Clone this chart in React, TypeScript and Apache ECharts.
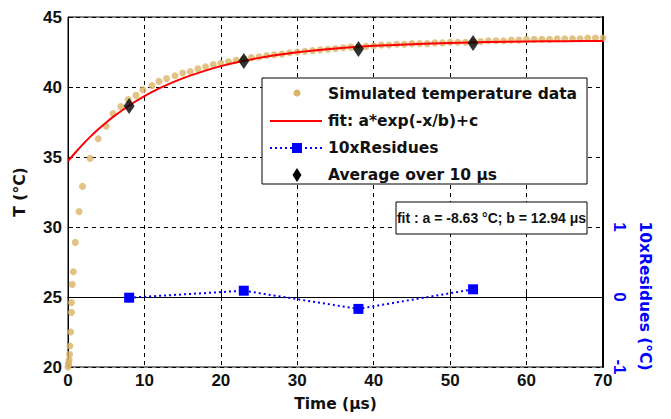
import React, { useEffect, useRef } from "react";
import * as echarts from "echarts";

// Simulated temperature data (time in µs, temperature in °C)
const simTime = [
  0, 0.05, 0.1, 0.15, 0.2, 0.25, 0.35, 0.45, 0.45, 0.55, 0.7, 0.95, 1.45, 1.9, 2.9, 3.95, 5, 5.9, 6.9, 7.9, 8.9, 9.8,
  11, 11.9, 12.9, 14, 15, 16, 17, 18, 19, 20, 21, 22, 23, 24, 25, 26, 27, 28, 29, 30, 31, 32, 33, 34, 35, 36, 37,
  38, 39, 40, 41, 42, 43, 44, 45, 46, 47, 48, 49, 50, 51, 52, 53, 54, 55, 56, 57, 58, 59, 60, 61, 62, 63, 64, 65,
  66, 67, 68, 69, 70,
];
const simTemp = [
  20.0, 20.15, 20.3, 20.5, 20.9, 21.5, 22.5, 23.9, 24.6, 25.9, 26.8, 28.9, 31.1, 32.9, 34.9, 36.3, 37.2, 38.1, 38.6,
  39.1, 39.4, 39.8, 40.1, 40.4, 40.6, 40.8, 41.0, 41.1, 41.3, 41.45, 41.6, 41.7, 41.8, 41.9, 42.0, 42.1, 42.15, 42.25,
  42.3, 42.35, 42.45, 42.5, 42.55, 42.6, 42.65, 42.7, 42.75, 42.8, 42.85, 42.85, 42.9, 42.95, 43.0, 43.0, 43.05,
  43.05, 43.1, 43.1, 43.1, 43.15, 43.15, 43.2, 43.2, 43.2, 43.25, 43.25, 43.3, 43.3, 43.3, 43.35, 43.35, 43.4, 43.4,
  43.4, 43.4, 43.45, 43.45, 43.45, 43.45, 43.5, 43.5, 43.5,
];

// Fit curve a*exp(-x/b)+c
const fitTime = [0, 1, 2, 3, 4, 5, 6, 8, 10, 12, 15, 20, 25, 30, 35, 40, 45, 50, 55, 60, 65, 70];
const fitTemp = [
  34.7, 35.34, 35.94, 36.49, 37.0, 37.47, 37.9, 38.68, 39.35, 39.92, 40.62, 41.49, 42.08, 42.48, 42.75, 42.94, 43.06,
  43.15, 43.21, 43.25, 43.27, 43.29,
];

// Residues (x10) and 10 µs averages
const avgTime = [8, 23, 38, 53];
const residues = [-0.01, 0.09, -0.17, 0.11];
const avgTemp = [38.64, 41.86, 42.72, 43.14];

const xTicks = [0, 10, 20, 30, 40, 50, 60, 70];
const rightLabels = [-1, 0, 1];

const seriesNames = ["Simulated temperature data", "fit: a*exp(-x/b)+c", "10xResidues", "Average over 10 μs"];
const fitText = "fit : a = -8.63 °C; b = 12.94 μs";

const DOT = "#dbb467";
const RED = "#ff0000";
const BLUE = "#0000ff";

export default function App() {
  const ref = useRef<HTMLDivElement>(null);
  useEffect(() => {
    if (!ref.current) return;
    const chart = echarts.init(ref.current, null, { renderer: "svg" });
    const tickFont = "'Liberation Sans', Arial, sans-serif";
    const nameFont = "'DejaVu Sans', Verdana, sans-serif";
    const gridLine = { show: true, lineStyle: { color: "#000", type: [4, 4] as any, width: 1 } };
    const legendText = (y: number, text: string) => ({
      type: "text",
      x: 328,
      y,
      z: 101,
      style: { text, fontFamily: nameFont, fontWeight: "bold", fontSize: 15.5, fill: "#111", align: "left", verticalAlign: "middle" },
    });
    chart.setOption({
      animation: false,
      backgroundColor: "#fff",
      textStyle: { fontFamily: tickFont },
      grid: { left: 68, right: 68, top: 17, bottom: 52, show: true, borderColor: "#000", borderWidth: 1 },
      xAxis: {
        type: "value",
        min: 0,
        max: 70,
        interval: 10,
        name: "Time (μs)",
        nameLocation: "middle",
        nameGap: 29,
        nameTextStyle: { fontFamily: nameFont, fontWeight: "bold", fontSize: 15.5, color: "#111" },
        axisLine: { lineStyle: { color: "#000" } },
        axisTick: { inside: true, lineStyle: { color: "#000" } },
        axisLabel: {
          fontFamily: tickFont,
          fontWeight: "bold",
          fontSize: 17,
          color: "#111",
          margin: 5,
          formatter: (v: number) => (xTicks.includes(v) ? String(v) : ""),
        },
        splitLine: gridLine,
      },
      yAxis: [
        {
          type: "value",
          min: 20,
          max: 45,
          interval: 5,
          name: "T (°C)",
          nameLocation: "middle",
          nameGap: 40,
          nameTextStyle: { fontFamily: nameFont, fontWeight: "bold", fontSize: 15.5, color: "#111" },
          axisLine: { show: true, lineStyle: { color: "#000" } },
          axisTick: { inside: true, lineStyle: { color: "#000" } },
          axisLabel: { fontFamily: tickFont, fontWeight: "bold", fontSize: 17, color: "#111", margin: 6 },
          splitLine: gridLine,
        },
        {
          type: "value",
          min: -1,
          max: 4,
          interval: 1,
          position: "right",
          axisLine: { show: true, lineStyle: { color: "#000", width: 2 } },
          axisTick: { show: false },
          axisLabel: {
            fontFamily: tickFont,
            fontWeight: "bold",
            fontSize: 17,
            color: BLUE,
            rotate: -90,
            margin: 8,
            formatter: (v: number) => (rightLabels.includes(v) ? String(v) : ""),
          },
          splitLine: { show: false },
        },
      ],
      series: [
        {
          name: seriesNames[0],
          type: "scatter",
          symbol: "circle",
          symbolSize: 7,
          itemStyle: { color: DOT },
          data: simTime.map((t, i) => [t, simTemp[i]]),
          z: 2,
        },
        {
          name: seriesNames[1],
          type: "line",
          showSymbol: false,
          symbol: "none",
          smooth: 0.3,
          lineStyle: { color: RED, width: 2 },
          itemStyle: { color: RED },
          data: fitTime.map((t, i) => [t, fitTemp[i]]),
          z: 3,
        },
        {
          name: seriesNames[2],
          type: "line",
          yAxisIndex: 1,
          symbol: "rect",
          symbolSize: 10,
          lineStyle: { color: BLUE, width: 2, type: [2, 3] as any },
          itemStyle: { color: BLUE },
          data: avgTime.map((t, i) => [t, residues[i]]),
          z: 4,
        },
        {
          name: seriesNames[3],
          type: "scatter",
          symbol: "diamond",
          symbolSize: [11, 16],
          itemStyle: { color: "#000" },
          data: avgTime.map((t, i) => [t, avgTemp[i]]),
          z: 5,
        },
      ],
      graphic: [
        // legend box
        { type: "rect", z: 100, shape: { x: 262, y: 78, width: 325, height: 106 }, style: { fill: "#fff", stroke: "#000", lineWidth: 1 } },
        { type: "circle", z: 101, shape: { cx: 297, cy: 93, r: 3.5 }, style: { fill: DOT } },
        legendText(94, seriesNames[0]),
        { type: "line", z: 101, shape: { x1: 270, y1: 121, x2: 322, y2: 121 }, style: { stroke: RED, lineWidth: 2 } },
        legendText(121, seriesNames[1]),
        { type: "line", z: 101, shape: { x1: 270, y1: 148, x2: 322, y2: 148 }, style: { stroke: BLUE, lineWidth: 2, lineDash: [2, 3] } },
        { type: "rect", z: 102, shape: { x: 292, y: 143, width: 10, height: 10 }, style: { fill: BLUE } },
        legendText(148, seriesNames[2]),
        { type: "polygon", z: 101, shape: { points: [[297, 168], [301.5, 175], [297, 182], [292.5, 175]] }, style: { fill: "#000" } },
        legendText(175, seriesNames[3]),
        // fit parameter box
        { type: "rect", z: 100, shape: { x: 396, y: 202, width: 191, height: 32 }, style: { fill: "#fff", stroke: "#000", lineWidth: 1 } },
        {
          type: "text",
          z: 101,
          x: 491.5,
          y: 218,
          style: { text: fitText, fontFamily: tickFont, fontWeight: "bold", fontSize: 14, fill: "#111", align: "center", verticalAlign: "middle" },
        },
        // right axis name
        {
          type: "text",
          x: 645,
          y: 296,
          rotation: -Math.PI / 2,
          style: {
            text: "10xResidues (°C)",
            fontFamily: nameFont,
            fontWeight: "bold",
            fontSize: 15.5,
            fill: BLUE,
            align: "center",
            verticalAlign: "middle",
          },
        },
      ],
    });
    return () => chart.dispose();
  }, []);
  return <div ref={ref} style={{ width: 671, height: 419, position: "absolute", left: 0, top: 0 }} />;
}
